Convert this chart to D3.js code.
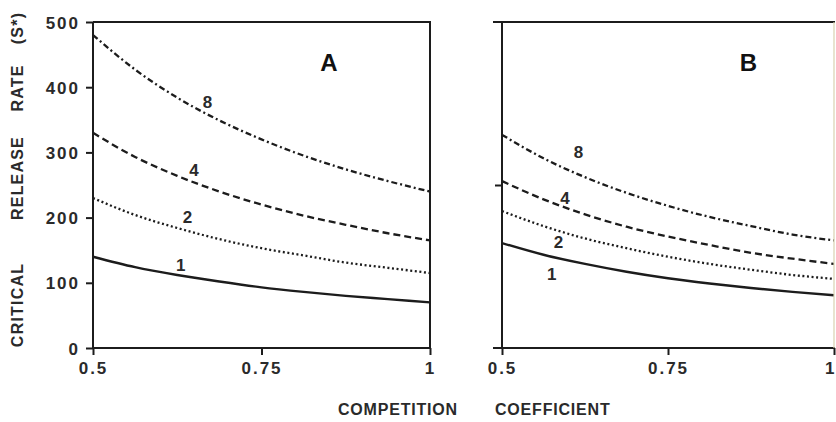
<!DOCTYPE html>
<html><head><meta charset="utf-8">
<script src="https://cdn.jsdelivr.net/npm/d3@7"></script>
<style>body{margin:0;background:#fff}svg{display:block}</style>
</head><body><svg id="c" width="836" height="422"></svg>
<script>
const alphas = [0.5, 0.5625, 0.625, 0.6875, 0.75, 0.8125, 0.875, 0.9375, 1];
const seriesNames = ["1", "2", "4", "8"];
const panelA_1 = [140, 124, 112, 102, 93, 86, 80, 75, 70];
const panelA_2 = [230, 204, 184, 167, 153, 142, 131, 123, 115];
const panelA_4 = [330, 293, 264, 240, 220, 203, 189, 176, 165];
const panelA_8 = [480, 427, 384, 349, 320, 295, 274, 256, 240];
const panelB_1 = [161, 143, 129, 117, 107, 99, 92, 86, 81];
const panelB_2 = [210, 187, 168, 153, 140, 129, 120, 112, 106];
const panelB_4 = [256, 228, 205, 186, 171, 158, 146, 137, 129];
const panelB_8 = [327, 291, 262, 238, 218, 201, 187, 174, 165];
const xTicks = [0.5, 0.75, 1];
const xTickLabels = ["0.5", "0.75", "1"];
const yTicksA = [0, 100, 200, 300, 400, 500];
const yTicksB = [250];
const labelPosA = {"1": 0.63, "2": 0.64, "4": 0.65, "8": 0.67};
const labelPosB = {"1": 0.575, "2": 0.585, "4": 0.595, "8": 0.615};

const svg = d3.select("#c");
const ink = "#1c1c1c", txt = "#2a2a2a";
const FONT = "'Liberation Sans', Arial, sans-serif";
const y = d3.scaleLinear().domain([0, 500]).range([348, 22]);
const xA = d3.scaleLinear().domain([0.5, 1]).range([93, 430]);
const xB = d3.scaleLinear().domain([0.5, 1]).range([502, 834]);

const dash = {"1": null, "2": "2,2.6", "4": "7,4", "8": "6,3,2,3"};

function panel(x, data, yTicks, showYLabels, name, labelPos, labelOff, frameRight) {
  const g = svg.append("g");
  const line = d3.line().x((d, i) => x(alphas[i])).y(d => y(d)).curve(d3.curveMonotoneX);
  seriesNames.forEach(s => {
    g.append("path").attr("d", line(data[s])).attr("fill", "none")
      .attr("stroke", ink).attr("stroke-width", s === "1" ? 2.4 : 2.3)
      .attr("stroke-dasharray", dash[s]);
    const a = labelPos[s];
    const idx = d3.bisectLeft(alphas, a);
    const t = (a - alphas[idx - 1]) / (alphas[idx] - alphas[idx - 1]);
    const v = data[s][idx - 1] + t * (data[s][idx] - data[s][idx - 1]);
    g.append("text").attr("x", x(a)).attr("y", y(v) + labelOff[s])
      .attr("text-anchor", "middle").attr("font-family", FONT).attr("font-weight", "bold")
      .attr("font-size", 17).attr("fill", txt).text(s);
  });
  const xa = g.append("g").attr("transform", `translate(0,${y(0)})`)
    .call(d3.axisBottom(x).tickValues(xTicks).tickFormat((d, i) => xTickLabels[i]).tickSize(7).tickPadding(7));
  xa.select(".domain").remove();
  xa.selectAll("line").attr("stroke", ink).attr("stroke-width", 2);
  xa.selectAll("text").attr("font-family", FONT).attr("font-weight", "bold").attr("font-size", 17)
    .attr("letter-spacing", "2px").attr("fill", txt);
  if (!showYLabels) xa.selectAll("text").filter((d) => d === 1).attr("text-anchor", "end").attr("letter-spacing", "0px").attr("dx", "0");
  const ya = g.append("g").attr("transform", `translate(${x(0.5)},0)`)
    .call(d3.axisLeft(y).tickValues(yTicks).tickSize(7).tickPadding(6).tickFormat(showYLabels ? d3.format("d") : ""));
  ya.select(".domain").remove();
  ya.selectAll("line").attr("stroke", ink).attr("stroke-width", 2);
  ya.selectAll("text").attr("font-family", FONT).attr("font-weight", "bold").attr("font-size", 17)
    .attr("letter-spacing", "2px").attr("fill", txt).attr("dy", "0.36em");
  const x0 = x(0.5), x1 = x(1), yb = y(0), yt = y(500);
  const ext = showYLabels ? 0 : 9;
  g.append("line").attr("x1", x0).attr("x2", x0).attr("y1", yt).attr("y2", yb + 1).attr("stroke", ink).attr("stroke-width", 2);
  g.append("line").attr("x1", x0 - ext).attr("x2", x1 + 1).attr("y1", yb).attr("y2", yb).attr("stroke", ink).attr("stroke-width", 2);
  g.append("line").attr("x1", x0 - ext).attr("x2", x1 + 1).attr("y1", yt).attr("y2", yt).attr("stroke", ink).attr("stroke-width", 2);
  g.append("line").attr("x1", x1).attr("x2", x1).attr("y1", yt).attr("y2", yb)
    .attr("stroke", frameRight).attr("stroke-width", frameRight === ink ? 2 : 1.2);
  g.append("text").attr("x", x(0.85) + (showYLabels ? 0 : 14)).attr("y", 71).attr("text-anchor", "middle")
    .attr("font-family", FONT).attr("font-weight", "bold").attr("font-size", 24).attr("fill", "#111").text(name);
}

panel(xA, {"1": panelA_1, "2": panelA_2, "4": panelA_4, "8": panelA_8}, yTicksA, true, "A", labelPosA,
  {"1": -4, "2": -8, "4": -6, "8": -6}, ink);
panel(xB, {"1": panelB_1, "2": panelB_2, "4": panelB_4, "8": panelB_8}, yTicksB, false, "B", labelPosB,
  {"1": 23, "2": 17, "4": -3, "8": -16}, "#d8d2b0");

const yTitle = [["CRITICAL", 305], ["RELEASE", 178], ["RATE", 88], ["(S*)", 28]];
yTitle.forEach(([t, c]) => {
  svg.append("text").attr("transform", `translate(23,${c}) rotate(-90)`).attr("text-anchor", "middle")
    .attr("font-family", FONT).attr("font-weight", "bold").attr("font-size", 16)
    .attr("letter-spacing", "1.2px").attr("fill", txt).text(t);
});
[["COMPETITION", 338], ["COEFFICIENT", 495]].forEach(([t, x0]) => {
  svg.append("text").attr("x", x0).attr("y", 415).attr("font-family", FONT).attr("font-weight", "bold")
    .attr("font-size", 16).attr("letter-spacing", "0.8px").attr("fill", txt).text(t);
});
</script></body></html>
